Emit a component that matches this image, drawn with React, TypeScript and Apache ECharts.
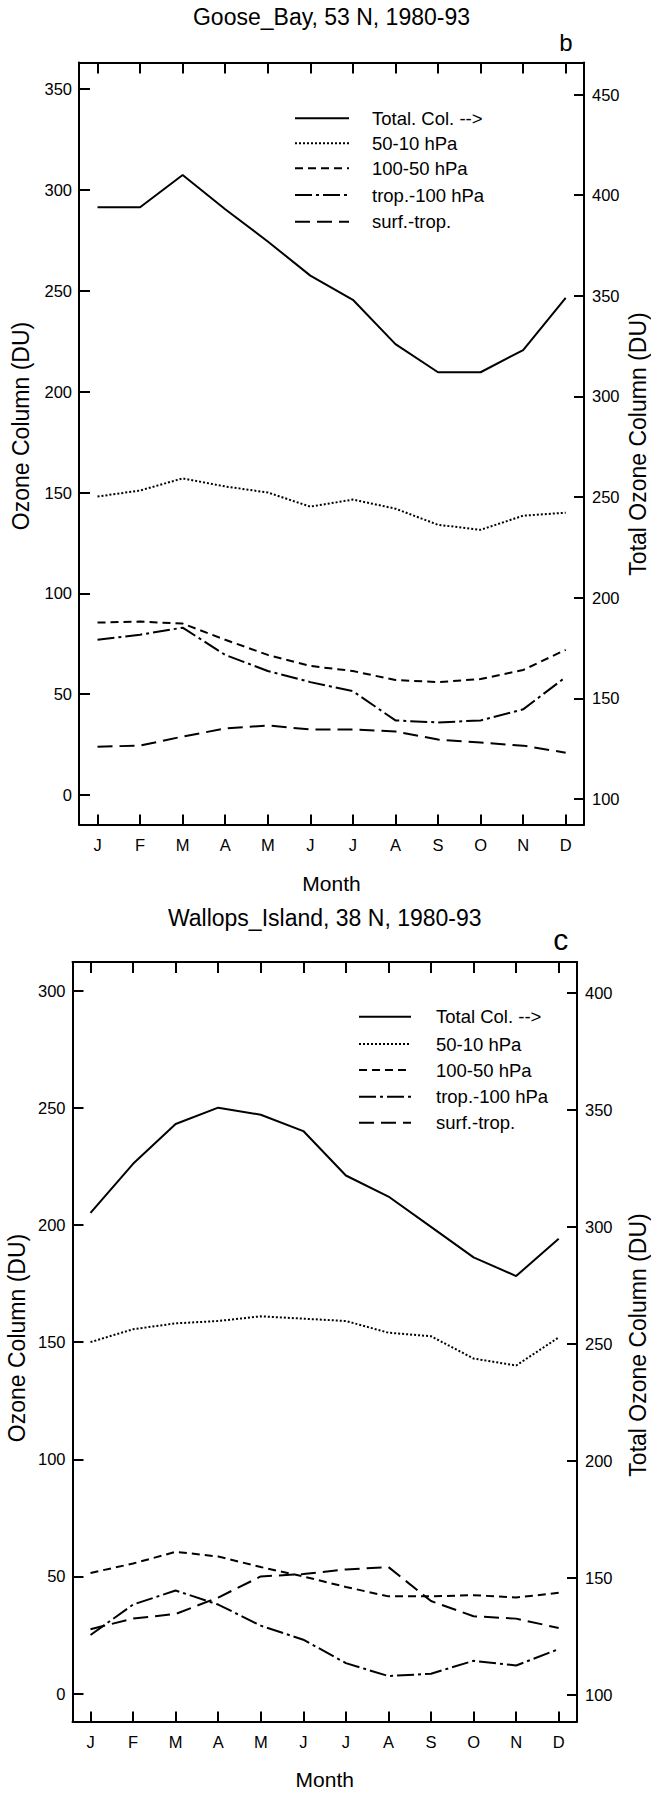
import React, { useEffect, useRef } from "react";
import * as echarts from "echarts";

const months = ["J", "F", "M", "A", "M", "J", "J", "A", "S", "O", "N", "D"];
const monthIndex = [1, 2, 3, 4, 5, 6, 7, 8, 9, 10, 11, 12];

// Goose Bay (panel b)
const gooseTotal = [394, 394, 410, 393, 377, 360, 348, 326, 312, 312, 323, 349];
const goose5010 = [148, 151, 157, 153, 150, 143, 146.5, 142, 134, 131.5, 138.5, 140];
const goose10050 = [85.5, 86, 85, 77, 69.5, 64, 61.5, 57, 56, 57.5, 62, 72];
const gooseTrop100 = [77, 79.5, 83, 69.5, 61.5, 56, 51.5, 37, 36, 37, 42.5, 58.5];
const gooseSurfTrop = [24, 24.5, 29, 33, 34.5, 32.5, 32.5, 31.5, 27.5, 26, 24.5, 21];

// Wallops Island (panel c)
const wallopsTotal = [306, 327, 344, 351, 348, 341, 322, 313, 300, 287, 279, 295];
const wallops5010 = [150, 155.5, 158, 159, 161, 160, 159, 154, 152.5, 143, 140, 152];
const wallops10050 = [51.5, 55.5, 60.5, 58.5, 54, 50, 45.5, 41.5, 41.5, 42, 41, 43];
const wallopsTrop100 = [25, 38, 44, 38, 29, 23, 13, 7.5, 8.5, 14, 12, 19];
const wallopsSurfTrop = [27.5, 32, 34, 41, 50, 51, 53, 54, 39.5, 33, 32, 28];

const leftTicksB = [0, 50, 100, 150, 200, 250, 300, 350];
const rightTicksB = [100, 150, 200, 250, 300, 350, 400, 450];
const leftTicksC = [0, 50, 100, 150, 200, 250, 300];
const rightTicksC = [100, 150, 200, 250, 300, 350, 400];

const layerNames = ["50-10 hPa", "100-50 hPa", "trop.-100 hPa", "surf.-trop."];

const FONT = "'Liberation Sans', Arial, Helvetica, sans-serif";
const BLACK = "#000";

const dashTotal: any = "solid";
const dash5010 = [2, 2];
const dash10050 = [8, 5];
const dashTrop = [17, 4, 3, 4];
const dashSurf = [15, 7];

function makeOption(cfg: any) {
  const pair = (arr: number[]) => monthIndex.map((m, i) => [m, arr[i]]);
  const lineSeries = (name: string, arr: number[], yIdx: number, type: any) => ({
    type: "line",
    name,
    xAxisIndex: 0,
    yAxisIndex: yIdx,
    data: pair(arr),
    symbol: "none",
    smooth: false,
    lineStyle: { color: BLACK, width: 2, type },
    itemStyle: { color: BLACK },
  });
  const axisLine = { show: true, onZero: false, lineStyle: { color: BLACK, width: 2 } };
  const labelStyle = { color: BLACK, fontSize: 16.5, fontFamily: FONT };

  const legendEntries = [
    { name: cfg.totalName, dash: dashTotal },
    { name: layerNames[0], dash: dash5010 },
    { name: layerNames[1], dash: dash10050 },
    { name: layerNames[2], dash: dashTrop },
    { name: layerNames[3], dash: dashSurf },
  ];
  const legendGraphics: any[] = [];
  legendEntries.forEach((e, i) => {
    const y = cfg.legendRows[i];
    legendGraphics.push({
      type: "line",
      shape: { x1: cfg.legendLine[0], y1: y, x2: cfg.legendLine[1], y2: y },
      style: {
        stroke: BLACK,
        lineWidth: 2,
        lineDash: e.dash === "solid" ? null : e.dash,
      },
    });
    legendGraphics.push({
      type: "text",
      x: cfg.legendText,
      y,
      style: {
        text: e.name,
        fill: BLACK,
        fontSize: 18.5,
        fontFamily: FONT,
        textAlign: "left",
        textVerticalAlign: "middle",
      },
    });
  });

  return {
    animation: false,
    backgroundColor: "#fff",
    grid: cfg.grid,
    xAxis: [
      {
        type: "value",
        position: "bottom",
        min: cfg.xRange[0],
        max: cfg.xRange[1],
        axisLine,
        splitLine: { show: false },
        axisTick: {
          show: true,
          inside: true,
          length: 10,
          lineStyle: { color: BLACK, width: 2 },
          customValues: monthIndex,
        },
        axisLabel: {
          ...labelStyle,
          margin: 12,
          customValues: monthIndex,
          formatter: (v: number) => months[Math.round(v) - 1] ?? "",
        },
        name: "Month",
        nameLocation: "middle",
        nameGap: cfg.monthGap,
        nameTextStyle: { color: BLACK, fontSize: 21, fontFamily: FONT },
      },
      {
        type: "value",
        position: "top",
        min: cfg.xRange[0],
        max: cfg.xRange[1],
        axisLine,
        splitLine: { show: false },
        axisTick: {
          show: true,
          inside: true,
          length: 11,
          lineStyle: { color: BLACK, width: 2 },
          customValues: monthIndex,
        },
        axisLabel: { show: false },
      },
    ],
    yAxis: [
      {
        type: "value",
        position: "left",
        min: cfg.yLeft[0],
        max: cfg.yLeft[1],
        axisLine,
        splitLine: { show: false },
        axisTick: {
          show: true,
          inside: true,
          length: 11,
          lineStyle: { color: BLACK, width: 2 },
          customValues: cfg.leftTicks,
        },
        axisLabel: { ...labelStyle, margin: 7, customValues: cfg.leftTicks },
      },
      {
        type: "value",
        position: "right",
        min: cfg.yRight[0],
        max: cfg.yRight[1],
        axisLine,
        splitLine: { show: false },
        axisTick: {
          show: true,
          inside: true,
          length: 10,
          lineStyle: { color: BLACK, width: 2 },
          customValues: cfg.rightTicks,
        },
        axisLabel: { ...labelStyle, margin: 8, customValues: cfg.rightTicks },
      },
    ],
    series: [
      lineSeries(cfg.totalName, cfg.total, 1, dashTotal),
      lineSeries(layerNames[0], cfg.s5010, 0, dash5010),
      lineSeries(layerNames[1], cfg.s10050, 0, dash10050),
      lineSeries(layerNames[2], cfg.trop, 0, dashTrop),
      lineSeries(layerNames[3], cfg.surf, 0, dashSurf),
    ],
    graphic: [
      {
        type: "text",
        x: cfg.titlePos[0],
        y: cfg.titlePos[1],
        style: {
          text: cfg.title,
          fill: BLACK,
          fontSize: 23,
          fontFamily: FONT,
          textAlign: "center",
          textVerticalAlign: "middle",
        },
      },
      {
        type: "text",
        x: cfg.letterPos[0],
        y: cfg.letterPos[1],
        style: {
          text: cfg.letter,
          fill: BLACK,
          fontSize: cfg.letterSize,
          fontFamily: FONT,
          textAlign: "center",
          textVerticalAlign: "middle",
        },
      },
      {
        type: "text",
        x: cfg.leftTitlePos[0],
        y: cfg.leftTitlePos[1],
        rotation: Math.PI / 2,
        style: {
          text: "Ozone Column (DU)",
          fill: BLACK,
          fontSize: 23,
          fontFamily: FONT,
          textAlign: "center",
          textVerticalAlign: "middle",
        },
      },
      {
        type: "text",
        x: cfg.rightTitlePos[0],
        y: cfg.rightTitlePos[1],
        rotation: Math.PI / 2,
        style: {
          text: "Total Ozone Column (DU)",
          fill: BLACK,
          fontSize: 23,
          fontFamily: FONT,
          textAlign: "center",
          textVerticalAlign: "middle",
        },
      },
      ...legendGraphics,
    ],
  };
}

const cfgB = {
  title: "Goose_Bay, 53 N, 1980-93",
  titlePos: [331.5, 16.7],
  letter: "b",
  letterPos: [566, 42],
  letterSize: 24,
  grid: { left: 79, right: 67, top: 62.5, height: 762 },
  xRange: [0.565, 12.43],
  yLeft: [-14.6, 363.2],
  yRight: [87.3, 465.9],
  leftTicks: leftTicksB,
  rightTicks: rightTicksB,
  totalName: "Total. Col. -->",
  total: gooseTotal,
  s5010: goose5010,
  s10050: goose10050,
  trop: gooseTrop100,
  surf: gooseSurfTrop,
  legendLine: [295, 349],
  legendText: 372,
  legendRows: [118.3, 143.3, 168.3, 195, 221.7],
  leftTitlePos: [21, 426],
  rightTitlePos: [638, 444],
  monthGap: 48,
};

const cfgC = {
  title: "Wallops_Island, 38 N, 1980-93",
  titlePos: [324.75, 18.3],
  letter: "c",
  letterPos: [560.7, 39.3],
  letterSize: 30,
  grid: { left: 72.5, right: 74, top: 62, height: 763.4 },
  xRange: [0.577, 12.43],
  yLeft: [-11.9, 312.2],
  yRight: [88.5, 413.3],
  leftTicks: leftTicksC,
  rightTicks: rightTicksC,
  totalName: "Total Col. -->",
  total: wallopsTotal,
  s5010: wallops5010,
  s10050: wallops10050,
  trop: wallopsTrop100,
  surf: wallopsSurfTrop,
  legendLine: [359, 411],
  legendText: 436,
  legendRows: [116.7, 144, 170, 196.7, 222.7],
  leftTitlePos: [17, 438],
  rightTitlePos: [637.5, 445],
  monthGap: 47.5,
};

export default function App() {
  const refB = useRef<HTMLDivElement>(null);
  const refC = useRef<HTMLDivElement>(null);
  useEffect(() => {
    const cb = echarts.init(refB.current!, null, { renderer: "svg" });
    cb.setOption(makeOption(cfgB) as any);
    const cc = echarts.init(refC.current!, null, { renderer: "svg" });
    cc.setOption(makeOption(cfgC) as any);
    return () => {
      cb.dispose();
      cc.dispose();
    };
  }, []);
  return (
    <div
      style={{
        position: "absolute",
        left: 0,
        top: 0,
        width: 651,
        height: 1795,
        background: "#fff",
      }}
    >
      <div ref={refB} style={{ width: 651, height: 900 }} />
      <div ref={refC} style={{ width: 651, height: 895 }} />
    </div>
  );
}
